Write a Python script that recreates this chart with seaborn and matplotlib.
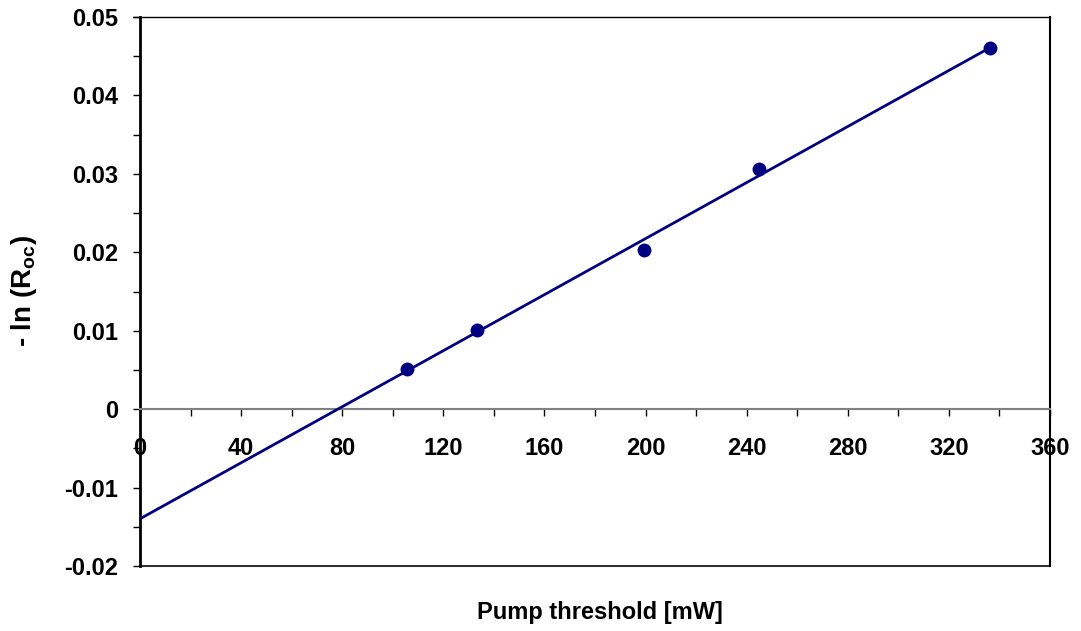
import numpy as np
import pandas as pd
import matplotlib
matplotlib.use("Agg")
import matplotlib.pyplot as plt
from matplotlib.ticker import MultipleLocator
import seaborn as sns

# ---- data ----
pump_threshold = [105.5, 133.3, 199.4, 245.0, 336.2]
neg_ln_roc = [0.0051, 0.0101, 0.0203, 0.0306, 0.0461]
x_ticks = [0, 40, 80, 120, 160, 200, 240, 280, 320, 360]
y_ticks = [-0.02, -0.01, 0, 0.01, 0.02, 0.03, 0.04, 0.05]
y_tick_labels = ["-0.02", "-0.01", "0", "0.01", "0.02", "0.03", "0.04", "0.05"]
x_label = "Pump threshold [mW]"
y_label = r"- ln (R$_{\mathrm{oc}}$)"

sns.set_theme(style="white")
plt.rcParams["font.family"] = ["Liberation Sans", "DejaVu Sans"]
plt.rcParams["font.weight"] = "bold"
plt.rcParams["text.color"] = "black"
plt.rcParams["xtick.color"] = "black"
plt.rcParams["ytick.color"] = "black"
plt.rcParams["xtick.labelcolor"] = "black"
plt.rcParams["ytick.labelcolor"] = "black"
plt.rcParams["mathtext.fontset"] = "custom"
plt.rcParams["mathtext.rm"] = "Liberation Sans:bold"
plt.rcParams["mathtext.bf"] = "Liberation Sans:bold"
plt.rcParams["mathtext.it"] = "Liberation Sans:bold"

W, H = 1081, 631
fig = plt.figure(figsize=(W / 100, H / 100), dpi=100)
L, R, T, B = 140, 1050, 17, 566
ax = fig.add_axes([L / W, 1 - B / H, (R - L) / W, (B - T) / H])

df = pd.DataFrame({"x": pump_threshold, "y": neg_ln_roc})
slope, intercept = np.polyfit(df["x"], df["y"], 1)
fit_x = np.array([0.0, max(pump_threshold)])
fit_df = pd.DataFrame({"x": fit_x, "y": slope * fit_x + intercept})

navy = "#000080"
sns.lineplot(data=fit_df, x="x", y="y", ax=ax, color=navy, lw=2.0, zorder=3)
sns.scatterplot(data=df, x="x", y="y", ax=ax, color=navy, s=100, edgecolor=navy,
                linewidth=0, zorder=4)

ax.set_xlim(0, 360)
ax.set_ylim(-0.02, 0.05)
ax.set_xlabel("")
ax.set_ylabel("")

# x-axis at y=0
ax.spines["bottom"].set_position(("data", 0))
ax.spines["bottom"].set_color("#808080")
ax.spines["bottom"].set_linewidth(1.5)
ax.spines["left"].set_color("black")
ax.spines["left"].set_linewidth(2.0)
ax.spines["top"].set_color("black")
ax.spines["top"].set_linewidth(1.0)
ax.spines["right"].set_color("black")
ax.spines["right"].set_linewidth(1.5)
ax.plot([0, 1], [0, 0], transform=ax.transAxes, color="#303030", lw=1.5,
        clip_on=False, zorder=2)
ax.plot([-0.008, 0], [1, 1], transform=ax.transAxes, color="black", lw=1.0,
        clip_on=False)

ax.set_xticks(x_ticks)
ax.set_xticklabels([str(v) for v in x_ticks], fontsize=17, fontweight="bold")
ax.xaxis.set_minor_locator(MultipleLocator(20))
ax.set_yticks(y_ticks)
ax.set_yticklabels(y_tick_labels, fontsize=17, fontweight="bold")
ax.yaxis.set_minor_locator(MultipleLocator(0.005))

ax.tick_params(axis="x", which="both", direction="out", length=5, width=1,
               color="black", bottom=True, pad=15)
ax.tick_params(axis="y", which="both", direction="out", length=5, width=1,
               color="black", left=True, pad=11)

fig.text(600 / W, 1 - 612 / H, x_label, ha="center", va="center",
         fontsize=17, fontweight="bold")
fig.text(24 / W, 1 - 291 / H, y_label, ha="center", va="center",
         rotation=90, fontsize=20, fontweight="bold")

fig.savefig("out.png", dpi=100, facecolor="white")
